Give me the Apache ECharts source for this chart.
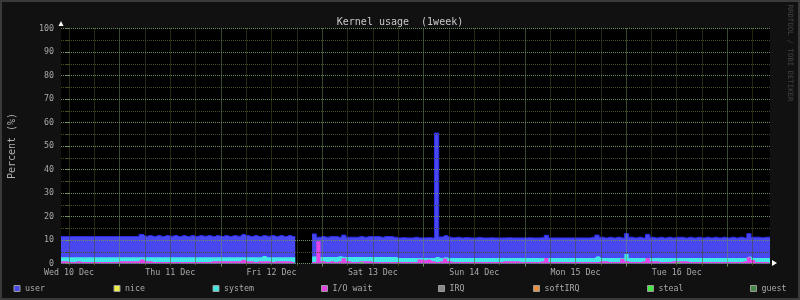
<!DOCTYPE html>
<html>
<head>
<meta charset="utf-8">
<script src="https://cdn.jsdelivr.net/npm/echarts@6/dist/echarts.min.js"></script>
<style>html,body{margin:0;padding:0;background:#111;}#c{width:800px;height:300px;}</style>
</head>
<body>
<div id="c"></div>
<script>
// ---- data ----
const TITLE = 'Kernel usage  (1week)';
const dayLabels = ['Wed 10 Dec','Thu 11 Dec','Fri 12 Dec','Sat 13 Dec','Sun 14 Dec','Mon 15 Dec','Tue 16 Dec'];
const labelHours = [0,24,48,72,96,120,144];
const majorGridHours = [12,36,60,84,108,132,156];
const minorGridHours = [0,6,18,24,30,42,48,54,66,72,78,90,96,102,114,120,126,138,144,150,162];
const seriesNames = ['user','nice','system','I/O wait','IRQ','softIRQ','steal','guest'];
const START_HOUR = -1.9, END_HOUR = 166.1, SAMPLE_COUNT = 169; // hourly samples, hours since Wed 10 Dec 00:00

const userValues = [
  11.5,11.5,11.5,11.5,11.5,11.5,11.5,11.5,11.5,11.5,11.5,11.5,11.5,11.5,11.5,11.5,11.5,11.5,11.5, // 0-18
  12.4, // 19
  11.6,11.9,11.5,11.9,11.5,11.9,11.6,11.9,11.5,11.9,11.5,11.9,11.5,11.9,11.6,11.9,11.5,11.9,11.5,11.9,11.5,11.9,11.6, // 20-42
  12.4, // 43
  11.9,11.5,11.9,11.5,11.9,11.6,11.9,11.5,11.9,11.5,11.9,11.5, // 44-55
  null,null,null,null, // 56-59
  12.6, // 60
  11.2,11.5,11.2,11.5,11.5,11.2,12.1,11.2,11.2,11.2,11.5,11.2,11.5,11.5,11.5,11.2,11.5,11.5,11.2, // 61-79
  10.9,11.0,10.9,10.9,11.2,10.9,10.9,11.0,10.9, // 80-88
  55.5, // 89
  11.3,11.9, // 90-91
  11.2,11.0,11.2,10.9,11.1,10.9,10.9,11.1,10.9,10.9,11.0,10.9,10.9,10.9,11.0,10.9,10.9,10.9,10.9,11.0,10.9,10.9,11.0, // 92-114
  12.0, // 115
  10.9,10.9,10.9,10.9,10.9,10.9,10.9,10.9,10.9,10.9,11.2, // 116-126
  12.1, // 127
  11.2,10.9,11.2,10.9,11.2,10.9, // 128-133
  12.7, // 134
  11.2,10.9,11.2,10.9, // 135-138
  12.4, // 139
  11.2,10.9,11.2,10.9,11.2,10.9,11.2,11.2,10.9,11.2,10.9,11.2,10.9,11.2,10.9,11.2,10.9,11.2,10.9,11.2,10.9,11.2,10.9, // 140-162
  12.7, // 163
  11.2,11.2,11.0,11.2,11.2 // 164-168
];

const systemValues = [
  2.7,2.7,2.7,2.7,2.7,2.7,2.7,2.7,2.7,2.7,2.7,2.7,2.7,2.7,2.7,2.7,2.7,2.7,2.7,2.7,2.7,2.7,2.7,2.7, // 0-23
  2.7,2.7,2.7,2.7,2.7,2.7,2.7,2.7,2.7,2.7,2.7,2.7,2.7,2.7,2.7,2.7,2.7,2.7,2.7,2.7,2.7,2.7,2.7,2.7, // 24-47
  3.2, // 48
  2.7,2.7,2.7,2.7,2.7,2.7,2.7, // 49-55
  null,null,null,null, // 56-59
  3.0, // 60
  2.8,2.8,2.8,2.8,2.8,3.1,2.8,2.8,2.8,2.8,2.8,2.8,2.8,2.8,2.8,2.8,2.8,2.8,2.8, // 61-79
  2.3,2.3,2.3,2.3,2.3,2.3,2.3,2.3,2.3, // 80-88
  2.8, // 89
  2.3,2.7, // 90-91
  2.3,2.3,2.3,2.3,2.3,2.3,2.3,2.3,2.3,2.3,2.3,2.3,2.3,2.3,2.3,2.3,2.3,2.3, // 92-109
  2.3,2.3,2.3,2.3,2.3,2.3,2.3,2.3,2.3,2.3,2.3,2.3,2.3,2.3,2.3,2.3,2.3, // 110-126
  3.1, // 127
  2.3,2.3,2.3,2.3,2.3,2.3, // 128-133
  4.0, // 134
  2.3,2.3,2.3,2.3,2.3,2.3,2.3,2.3,2.3,2.3,2.3,2.3,2.3,2.3, // 135-148
  2.3,2.3,2.3,2.3,2.3,2.3,2.3,2.3,2.3,2.3,2.3,2.3,2.3,2.3, // 149-162
  3.0, // 163
  2.3,2.3,2.3,2.3,2.3 // 164-168
];

const iowaitValues = [
  1.0,1.0,0.6,0.6,1.0,0.6, // 0-5
  0.6,0.6,0.6,0.6,0.6,0.6,0.6,0.6, // 6-13
  1.0,1.0,1.0,1.0,1.0, // 14-18
  1.8,1.0,1.0, // 19-21
  0.6,0.6,0.6,0.6,0.6,0.6,0.6,0.6,0.6,0.6,0.6,0.6,0.6,0.6, // 22-35
  1.0,1.0,1.0,1.0,1.0,1.0,1.0, // 36-42
  1.6, // 43
  1.0,1.0,0.6,1.0,1.0,1.0,0.6,1.0,1.0,1.0,1.0, // 44-54
  0.6, // 55
  null,null,null,null, // 56-59
  0.6,9.5,1.0,0.6,1.0,0.6,1.0,2.2,1.0,0.6, // 60-69
  0.6,1.0,1.0,1.0,0.6, // 70-74
  0.6,0.6,0.6,0.6,0.6,0.6,0.6,0.6,0.6,0.6, // 75-84
  1.7,1.4,1.7,1.0,0.6,1.0,2.1,1.0, // 85-92
  0.6,0.6,0.6,0.6,0.6,0.6,0.6,0.6,0.6,0.6,0.6,0.6, // 93-104
  1.0,1.0,1.0,1.0, // 105-108
  0.6,0.6,0.6,0.6,0.6, // 109-113
  1.0,2.3, // 114-115
  0.6,0.6,0.6,0.6,0.6,0.6,0.6,0.6,0.6,0.6,0.6,0.6, // 116-127
  1.0,1.0,0.6,0.6,0.6,2.0,1.0,0.6,0.6,0.6,1.0,2.3,1.0,1.0,0.6,0.6,0.6, // 128-144
  1.0,1.0,1.0,1.0, // 145-148
  0.6,0.6,0.6,0.6,0.6,0.6,0.6,0.6,0.6,0.6,0.6,0.6,0.6, // 149-161
  1.0,2.7,1.5, // 162-164
  0.6,0.6,0.6,0.6 // 165-168
];

const stealValues = [
  0,0,0,0,0,0,0,0,0,0,0,0,0,0,0,0,0,0,0,0,0,0,0,0,0,0,0,0,0,0,0,0,0,0,0,0,0,0,0,0, // 0-39
  0,0,0,0,0,0,0,0,0,0,0,0,0,0,0,0,null,null,null,null, // 40-59
  0,0,0,0,0,0,0,0,0,0,0,0.5,0,0,0,0,0,0,0,0, // 60-79
  0,0,0,0,0,0,0,0,0,0,0,0,0,0,0,0,0,0,0,0,0,0,0,0,0,0,0,0,0,0,0,0,0,0,0,0,0,0,0,0, // 80-119
  0,0,0,0,0,0,0,0,0,0,0,0,0,0,0,0,0,0,0,0,0,0,0,0,0,0,0.5,0,0,0, // 120-149
  0,0,0,0,0,0,0,0,0,0,0,0,0,0,0,0,0,0,0 // 150-168
];
const niceValues = [], irqValues = [], softirqValues = [], guestValues = [];

// ---- chart ----
const hours = [];
for (let i = 0; i < SAMPLE_COUNT; i++) hours.push(+(START_HOUR + i).toFixed(1));

const FONT = "'DejaVu Sans Mono', monospace";
const MAJOR = '#6f9060';
const MINOR = '#4c4c22';
const TEXT = '#aaaaaa';

const palette = {
  'user':     {fill:'#4848ee', line:'#2c2cf2', w:1},
  'nice':     {fill:'#eeee44', line:'#eeee44', w:0},
  'system':   {fill:'#40e8e8', line:'#40e8e8', w:0},
  'I/O wait': {fill:'#e444e4', line:'#e444e4', w:0},
  'IRQ':      {fill:'#888888', line:'#888888', w:0},
  'softIRQ':  {fill:'#e89040', line:'#e89040', w:0},
  'steal':    {fill:'#44e844', line:'#44e844', w:0},
  'guest':    {fill:'#448844', line:'#448844', w:0}
};
const valuesByName = {
  'user': userValues, 'nice': niceValues, 'system': systemValues, 'I/O wait': iowaitValues,
  'IRQ': irqValues, 'softIRQ': softirqValues, 'steal': stealValues, 'guest': guestValues
};

const series = seriesNames.map(name => {
  const p = palette[name];
  return {
    name, type: 'line', xAxisIndex: 0, yAxisIndex: 0,
    data: valuesByName[name].map((v, i) => [hours[i], v]),
    step: 'middle', symbol: 'none', showSymbol: false, connectNulls: false,
    itemStyle: {color: p.fill},
    lineStyle: {color: p.line, width: p.w},
    areaStyle: {color: p.fill, opacity: 1},
    emphasis: {disabled: true}, silent: true
  };
});

const legendLefts = [13.5, 113.5, 212.5, 321, 438, 533, 647, 750];
const legends = seriesNames.map((name, k) => ({
  data: [name], left: legendLefts[k], top: 284.5, padding: 0,
  icon: 'rect', itemWidth: 6, itemHeight: 6, selectedMode: false,
  itemStyle: {borderColor: '#9a9a9a', borderWidth: 1},
  textStyle: {color: TEXT, fontFamily: FONT, fontSize: 8.3}
}));

const chart = echarts.init(document.getElementById('c'), null, {renderer: 'canvas'});
chart.setOption({
  backgroundColor: '#111111',
  animation: false,
  title: {
    text: TITLE, left: 'center', top: 12,
    textStyle: {color: '#c8c8c8', fontFamily: FONT, fontSize: 10, fontWeight: 'normal'}
  },
  grid: {left: 61, right: 30, top: 28.5, bottom: 36.5, show: true, backgroundColor: '#000000', borderWidth: 0,
         containLabel: false, outerBoundsMode: 'none'},
  xAxis: [
    {
      type: 'value', min: START_HOUR, max: END_HOUR, position: 'bottom', z: 10,
      axisLine: {show: false},
      axisTick: {show: true, customValues: majorGridHours, length: 3, lineStyle: {color: MAJOR}},
      axisLabel: {
        customValues: labelHours, margin: 5,
        formatter: v => dayLabels[labelHours.indexOf(v)],
        color: TEXT, fontFamily: FONT, fontSize: 8.3
      },
      splitLine: {show: true, lineStyle: {color: MAJOR, type: [1, 1], width: 1}}
    },
    {
      type: 'value', min: START_HOUR, max: END_HOUR, position: 'bottom', z: 9,
      axisLine: {show: false},
      axisTick: {show: true, customValues: minorGridHours, length: 2, lineStyle: {color: MINOR}},
      axisLabel: {show: false},
      splitLine: {show: true, lineStyle: {color: MINOR, type: [1, 1], width: 1}}
    }
  ],
  yAxis: {
    type: 'value', min: 0, max: 100, interval: 10, z: 10,
    axisLine: {show: false},
    axisTick: {show: true, length: 3, lineStyle: {color: MAJOR}},
    minorTick: {show: true, splitNumber: 2, length: 3, lineStyle: {color: MINOR}},
    splitLine: {show: true, lineStyle: {color: MAJOR, type: [1, 1], width: 1}},
    minorSplitLine: {show: true, lineStyle: {color: MINOR, type: [1, 1], width: 1}},
    axisLabel: {color: TEXT, fontFamily: FONT, fontSize: 8.3, margin: 7},
    name: 'Percent (%)', nameLocation: 'middle', nameGap: 44, nameRotate: 90,
    nameTextStyle: {color: '#b0b0b0', fontFamily: FONT, fontSize: 10}
  },
  legend: legends,
  graphic: [
    {type: 'rect', silent: true, z: 100, shape: {x: 1, y: 1, width: 798, height: 298},
     style: {fill: 'none', stroke: '#3a3a3a', lineWidth: 2}},
    {type: 'polygon', silent: true, z: 100, shape: {points: [[58.5, 26], [63.5, 26], [61, 21]]}, style: {fill: '#ffffff'}},
    {type: 'polygon', silent: true, z: 100, shape: {points: [[772, 260], [772, 266], [777, 263]]}, style: {fill: '#ffffff'}},
    {type: 'text', silent: true, z: 100, x: 790, y: 53, rotation: -Math.PI / 2,
     style: {text: 'RRDTOOL / TOBI OETIKER', fill: '#454545', font: "7.3px 'DejaVu Sans Mono', monospace",
             textAlign: 'center', textVerticalAlign: 'middle'}}
  ],
  series
});
</script>
</body>
</html>
